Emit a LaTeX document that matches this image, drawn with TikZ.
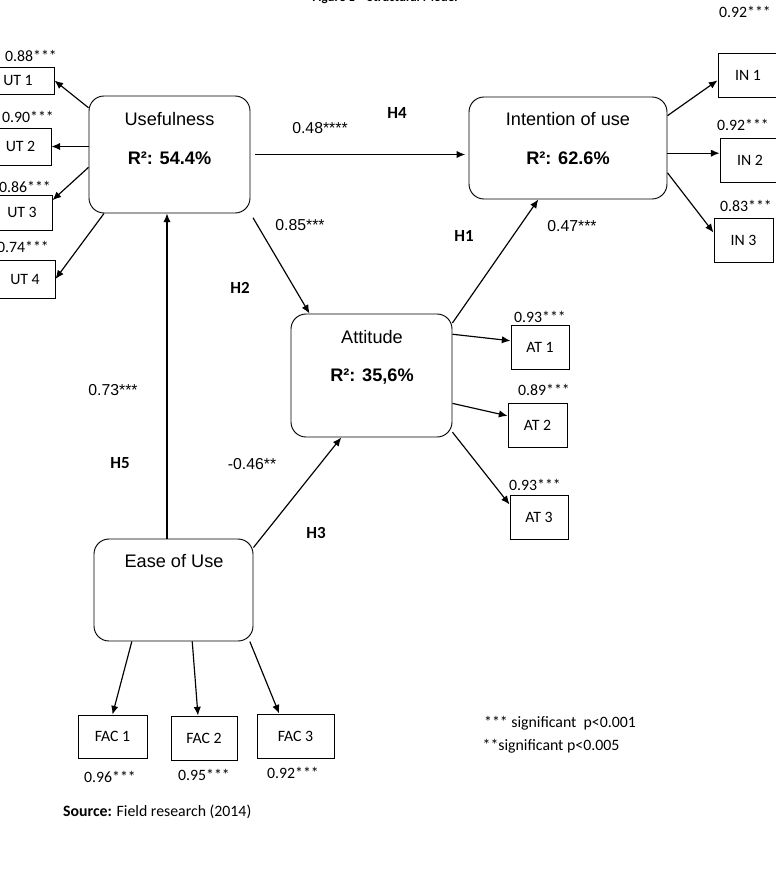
\documentclass[tikz,border=0pt]{standalone}
\usepackage{fontspec}
\setmainfont{Carlito}
\newfontfamily\arialfont{Liberation Sans}
\usetikzlibrary{arrows.meta}

\begin{document}
\begin{tikzpicture}[x=0.3mm, y=-0.3mm,
    latent/.style={draw, rounded corners=4.5mm, line width=0.8pt, inner sep=0pt},
    indicator/.style={draw, line width=0.8pt, inner sep=0pt, font=\fontsize{13.5pt}{16pt}\selectfont},
    lvname/.style={font=\arialfont\fontsize{15.5pt}{18pt}\selectfont},
    rsq/.style={font=\arialfont\bfseries\fontsize{15.5pt}{18pt}\selectfont},
    coef/.style={font=\arialfont\fontsize{13.5pt}{16pt}\selectfont},
    loading/.style={font=\fontsize{13.5pt}{16pt}\selectfont},
    hyp/.style={font=\bfseries\fontsize{14.5pt}{17pt}\selectfont},
    link/.style={-{Latex[length=2.6mm,width=2.2mm]}, line width=1pt},
]
    \useasboundingbox (0,0) rectangle (776,879);

    % Title (cut by the page edge)
    \node[anchor=base, font=\bfseries\fontsize{11pt}{13pt}\selectfont] (title) at (385,1.5) {Figure 1 -- Structural Model};

    % Latent variables
    \node[latent, minimum width=48.3mm, minimum height=35.1mm] (use) at (169.5,154.5) {};
    \node[lvname] (usename) at (169.5,119) {Usefulness};
    \node[rsq] (usersq) at (169.5,158) {R²: 54.4\%};

    \node[latent, minimum width=59.4mm, minimum height=30.6mm] (int) at (568,148) {};
    \node[lvname] (intname) at (568,119) {Intention of use};
    \node[rsq] (intrsq) at (568,158) {R²: 62.6\%};

    \node[latent, minimum width=48.3mm, minimum height=36.9mm] (att) at (371.5,375.5) {};
    \node[lvname] (attname) at (372,337) {Attitude};
    \node[rsq] (attrsq) at (372,377) {R²: 35,6\%};

    \node[latent, minimum width=47.7mm, minimum height=30.6mm] (ease) at (173.5,590) {};
    \node[lvname] (easename) at (174,561) {Ease of Use};

    % Loadings of the indicators
    \node[loading] (lut1) at (31,56) {0.88***};
    \node[loading] (lut2) at (28,117) {0.90***};
    \node[loading] (lut3) at (25,187) {0.86***};
    \node[loading] (lut4) at (23,247) {0.74***};
    \node[loading] (lin1) at (745,12) {0.92***};
    \node[loading] (lin2) at (743,125) {0.92***};
    \node[loading] (lin3) at (746,206) {0.83***};
    \node[loading] (lat1) at (540,317) {0.93***};
    \node[loading] (lat2) at (544,390) {0.89***};
    \node[loading] (lat3) at (535,485) {0.93***};
    \node[loading] (lfac1) at (110,777) {0.96***};
    \node[loading] (lfac2) at (204,775) {0.95***};
    \node[loading] (lfac3) at (293,773) {0.92***};

    % Indicators
    \node[indicator, minimum width=21.6mm, minimum height=8.1mm] (ut1) at (18,80.5) {UT 1};
    \node[indicator, minimum width=18.3mm, minimum height=11.1mm] (ut2) at (20.5,146.5) {UT 2};
    \node[indicator, minimum width=18mm, minimum height=10.5mm] (ut3) at (22,212.5) {UT 3};
    \node[indicator, minimum width=18mm, minimum height=11.4mm] (ut4) at (25,279) {UT 4};
    \node[indicator, minimum width=18mm, minimum height=13.2mm] (in1) at (748,75) {IN 1};
    \node[indicator, minimum width=18mm, minimum height=13.2mm] (in2) at (750,160) {IN 2};
    \node[indicator, minimum width=17.7mm, minimum height=13.2mm] (in3) at (743.5,240) {IN 3};
    \node[indicator, minimum width=17.4mm, minimum height=13.2mm] (at1) at (540,347) {AT 1};
    \node[indicator, minimum width=17.7mm, minimum height=13.2mm] (at2) at (537.5,425) {AT 2};
    \node[indicator, minimum width=17.4mm, minimum height=13.2mm] (at3) at (539,517) {AT 3};
    \node[indicator, minimum width=20.7mm, minimum height=12.9mm] (fac1) at (112.5,736.5) {FAC 1};
    \node[indicator, minimum width=19.8mm, minimum height=13.2mm] (fac2) at (204,738) {FAC 2};
    \node[indicator, minimum width=23.1mm, minimum height=13.2mm] (fac3) at (295.5,736) {FAC 3};

    % Measurement arrows
    \draw[link] (use.150) -- (ut1.east);
    \draw[link] (use.west |- ut2) -- (ut2.east);
    \draw[link] (use.189) -- (ut3.22);
    \draw[link] (use.222) -- (ut4.east);
    \draw[link] (int.18) -- (in1.190);
    \draw[link] (int.-3) -- (in2.west |- int.-3);
    \draw[link] (int.-14) -- (in3.166);
    \draw[link] (att.27) -- (at1.168);
    \draw[link] (att.-19) -- (at2.163);
    \draw[link] (att.-35) -- (at3.157);
    \draw[link] (ease.231) -- (fac1.north);
    \draw[link] (ease.-70) -- (fac2.105);
    \draw[link] (ease.-34) -- (fac3.126);

    % Structural paths
    \draw[link, shorten <=1.5mm, shorten >=1mm] (use.east) -- (int.west |- use.east);
    \draw[link, shorten <=1.5mm] (use.south east) -- (att.135);
    \draw[link] ([xshift=-0.75mm]ease.north -| use.south) -- ([xshift=-0.75mm]use.south);
    \draw[link] (ease.28) -- (att.244);
    \draw[link] (att.33) -- (int.240);

    % Path coefficients and hypotheses
    \node[coef] (c48) at (320,128) {0.48****};
    \node[coef] (c85) at (300,225) {0.85***};
    \node[coef] (c73) at (113,390) {0.73***};
    \node[coef] (c46) at (252,464) {-0.46**};
    \node[coef] (c47) at (572,226) {0.47***};
    \node[hyp] (h4) at (397,113) {H4};
    \node[hyp] (h2) at (240,288) {H2};
    \node[hyp] (h5) at (120,463) {H5};
    \node[hyp] (h3) at (316,533) {H3};
    \node[hyp] (h1) at (464,236) {H1};

    % Notes
    \node[loading] (sig3) at (560,723) {*** significant~~p<0.001};
    \node[loading] (sig2) at (551,746) {**significant p<0.005};
    \node[loading, anchor=west] (source) at (59,812) {\textbf{Source:} Field research (2014)};
\end{tikzpicture}
\end{document}
